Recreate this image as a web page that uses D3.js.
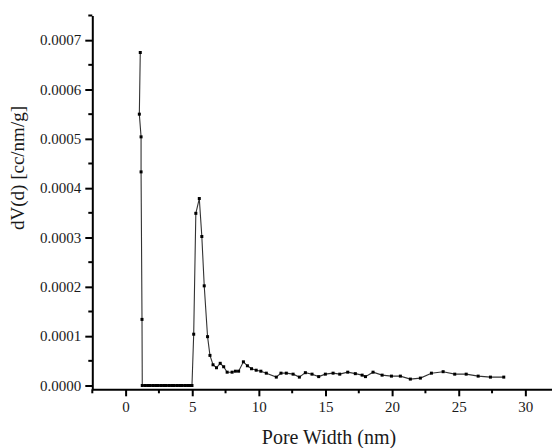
<!DOCTYPE html>
<html>
<head>
<meta charset="utf-8">
<script src="https://cdn.jsdelivr.net/npm/d3@7"></script>
<style>
  html, body { margin: 0; padding: 0; background: #fff; }
  svg { display: block; }
  text { font-family: "Liberation Serif", "Times New Roman", serif; fill: #1a1a1a; }
</style>
</head>
<body>
<svg id="chart" width="552" height="448"></svg>
<script>
// Pore width (nm) of each measured point
const poreWidth = [
  1.10, 1.03, 1.16, 1.16, 1.23, 1.25,
  1.45, 1.65, 1.85, 2.05, 2.25, 2.45, 2.65, 2.85, 3.05, 3.25,
  3.45, 3.65, 3.85, 4.05, 4.25, 4.45, 4.65, 4.85, 4.98,
  5.11, 5.27, 5.53, 5.72, 5.90, 6.15, 6.33, 6.56, 6.82, 7.10,
  7.36, 7.62, 7.99, 8.24, 8.48, 8.84, 9.14, 9.45, 9.80, 10.15,
  10.56, 11.31, 11.66, 12.06, 12.57, 13.04, 13.49, 13.99, 14.49, 14.99,
  15.57, 16.07, 16.67, 17.24, 17.75, 18.00, 18.57, 19.25, 19.95, 20.62,
  21.37, 22.12, 22.95, 23.83, 24.70, 25.56, 26.46, 27.38, 28.38
];
// dV(d) [cc/nm/g] of each point
const dV = [
  0.000675, 0.000550, 0.000504, 0.000433, 0.000134, 0,
  0, 0, 0, 0, 0, 0, 0, 0, 0, 0,
  0, 0, 0, 0, 0, 0, 0, 0, 0,
  0.000104, 0.000349, 0.000379, 0.000302, 0.000202, 0.000099, 0.000061, 0.000042, 0.000036, 0.000045,
  0.000038, 0.000027, 0.000027, 0.000029, 0.000029, 0.000048, 0.000040, 0.000034, 0.000031, 0.000029,
  0.000025, 0.000017, 0.000025, 0.000025, 0.000023, 0.000017, 0.000026, 0.000023, 0.000018, 0.000023,
  0.000025, 0.000023, 0.000027, 0.000024, 0.000021, 0.000018, 0.000027, 0.000021, 0.000019, 0.000019,
  0.000013, 0.000015, 0.000025, 0.000028, 0.000023, 0.000023, 0.000019, 0.000017, 0.000017
];
const xMajorTicks = [0, 5, 10, 15, 20, 25, 30];
const xMinorTicks = [-2.5, 2.5, 7.5, 12.5, 17.5, 22.5, 27.5];
const yMajorTicks = [0, 0.0001, 0.0002, 0.0003, 0.0004, 0.0005, 0.0006, 0.0007];
const yMinorTicks = [0.00005, 0.00015, 0.00025, 0.00035, 0.00045, 0.00055, 0.00065, 0.00075];
const xTitle = "Pore Width (nm)";
const yTitle = "dV(d) [cc/nm/g]";

(function () {
const points = poreWidth.map((w, i) => ({ x: w, y: dV[i] }));

const svg = d3.select("#chart");
const mLeft = 92.3, mRight = 552, mTop = 15.5, mBottom = 389.3;

const x = d3.scaleLinear().domain([-2.5, 32]).range([mLeft, mRight]);
const y = d3.scaleLinear().domain([-0.0000077, 0.00075]).range([mBottom, mTop]);

// Axes
const xAxis = svg.append("g").attr("transform", `translate(0,${mBottom})`);
xAxis.call(d3.axisBottom(x).tickValues(xMajorTicks).tickSize(7).tickSizeOuter(0).tickPadding(5)
  .tickFormat(d3.format("d")));
xAxis.append("g").selectAll("line").data(xMinorTicks).join("line")
  .attr("x1", d => x(d)).attr("x2", d => x(d)).attr("y1", 0).attr("y2", 4)
  .attr("stroke", "#000").attr("stroke-width", 2);

const yAxis = svg.append("g").attr("transform", `translate(${mLeft},0)`);
yAxis.call(d3.axisLeft(y).tickValues(yMajorTicks).tickSize(7).tickSizeOuter(0).tickPadding(4)
  .tickFormat(d3.format(".4f")));
yAxis.append("g").selectAll("line").data(yMinorTicks).join("line")
  .attr("x1", -4).attr("x2", 0).attr("y1", d => y(d)).attr("y2", d => y(d))
  .attr("stroke", "#000").attr("stroke-width", 2);

svg.selectAll(".domain").attr("stroke", "#000").attr("stroke-width", 2);
svg.selectAll(".tick line").attr("stroke", "#000").attr("stroke-width", 2);
svg.selectAll(".tick text").style("font-family", '"Liberation Serif", serif')
  .style("font-size", "15px").attr("fill", "#333");

// Titles
svg.append("text").attr("x", 329).attr("y", 444).attr("text-anchor", "middle")
  .style("font-size", "20px").attr("fill", "#222").text(xTitle);
svg.append("text").attr("transform", "translate(24,168) rotate(-90)").attr("text-anchor", "middle")
  .style("font-size", "19px").attr("fill", "#222").text(yTitle);

// Line and markers
const line = d3.line().x(d => x(d.x)).y(d => y(d.y));
svg.append("path").datum(points).attr("d", line)
  .attr("fill", "none").attr("stroke", "#333").attr("stroke-width", 1.1);
svg.append("g").selectAll("rect").data(points).join("rect")
  .attr("x", d => x(d.x) - 1.5).attr("y", d => y(d.y) - 1.5)
  .attr("width", 3).attr("height", 3).attr("fill", "#000");
})();
</script>
</body>
</html>
